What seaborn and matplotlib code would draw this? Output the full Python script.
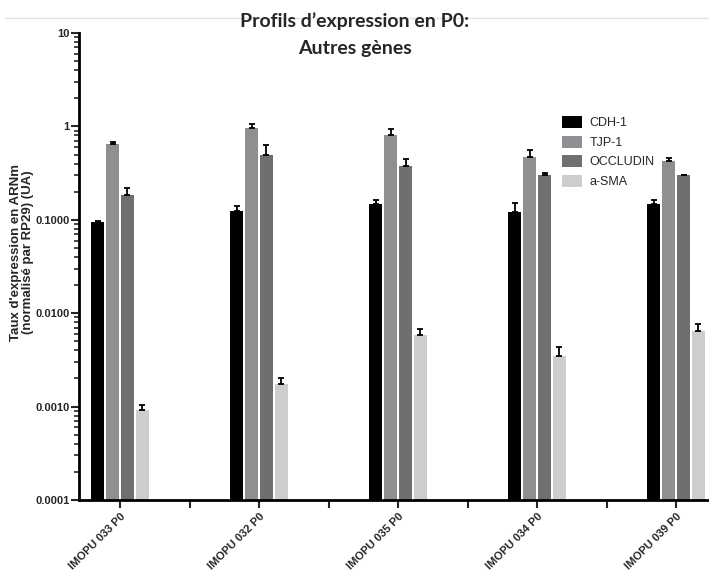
import numpy as np
import pandas as pd
import seaborn as sns
import matplotlib.pyplot as plt
from matplotlib.ticker import FixedLocator, FixedFormatter, LogLocator, NullFormatter
from matplotlib.patches import Patch
from matplotlib.lines import Line2D

# Data (relative mRNA expression, normalised to RP29)
samples = ["IMOPU 033 P0", "IMOPU 032 P0", "IMOPU 035 P0", "IMOPU 034 P0", "IMOPU 039 P0"]
genes = ["CDH-1", "TJP-1", "OCCLUDIN", "a-SMA"]

cdh1 = [0.095, 0.125, 0.148, 0.122, 0.148]
tjp1 = [0.65, 0.96, 0.81, 0.47, 0.43]
occludin = [0.185, 0.50, 0.38, 0.30, 0.30]
asma = [0.00093, 0.00176, 0.0059, 0.0035, 0.0065]

# upper error (SEM)
cdh1_err = [0.002, 0.015, 0.015, 0.030, 0.015]
tjp1_err = [0.03, 0.10, 0.13, 0.09, 0.03]
occludin_err = [0.035, 0.14, 0.07, 0.016, 0.005]
asma_err = [0.00012, 0.00024, 0.0009, 0.0008, 0.0012]

colors = ["#000000", "#8e8e93", "#6f6f6f", "#cdcdcd"]

values = [cdh1, tjp1, occludin, asma]
errors = [cdh1_err, tjp1_err, occludin_err, asma_err]

df = pd.DataFrame({
    "sample": np.tile(samples, len(genes)),
    "gene": np.repeat(genes, len(samples)),
    "value": np.concatenate(values),
})

sns.set_style("white")
plt.rcParams["font.family"] = ["Liberation Sans", "DejaVu Sans"]

fig = plt.figure(figsize=(7.09, 5.74), dpi=100)
ax = fig.add_axes([79 / 709, 1 - 500 / 574, 1 - 79 / 709, (500 - 33) / 574])

sns.barplot(data=df, x="sample", y="value", hue="gene", palette=colors,
            width=0.43, gap=0.12, errorbar=None, ax=ax, legend=False,
            linewidth=0)
ax.set_yscale("log")

# upper-only error bars
for cont, err in zip(ax.containers, errors):
    for bar, e in zip(cont, err):
        xc = bar.get_x() + bar.get_width() / 2
        h = bar.get_height()
        ax.errorbar(xc, h, yerr=[[0], [e]], fmt="none", ecolor="black",
                    elinewidth=1.3, capsize=2.5, capthick=1.3)

ax.set_ylim(1e-4, 10)
ax.set_xlim(-0.295, 4.237)

ax.yaxis.set_major_locator(FixedLocator([1e-4, 1e-3, 1e-2, 1e-1, 1, 10]))
ax.yaxis.set_major_formatter(FixedFormatter(["0.0001", "0.0010", "0.0100", "0.1000", "1", "10"]))
ax.yaxis.set_minor_locator(LogLocator(base=10, subs=np.arange(2, 10)))
ax.yaxis.set_minor_formatter(NullFormatter())

ax.set_xticks(range(len(samples)))
ax.set_xticklabels(samples, rotation=45, ha="right", rotation_mode="anchor",
                   fontsize=8, fontweight="bold")
ax.set_xticks([0.5, 1.5, 2.5, 3.5], minor=True)

for lab in ax.get_yticklabels():
    lab.set_fontsize(8)
    lab.set_fontweight("bold")

ax.tick_params(axis="y", which="major", left=True, length=6, width=1.5, pad=1)
ax.tick_params(axis="y", which="minor", left=True, length=3.5, width=1.2)
ax.tick_params(axis="x", which="both", bottom=True, length=6, width=1.5, pad=2)

for side in ["top", "right"]:
    ax.spines[side].set_visible(False)
for side in ["left", "bottom"]:
    ax.spines[side].set_linewidth(2)
    ax.spines[side].set_color("black")

ax.set_xlabel("")
ax.set_ylabel("Taux d'expression en ARNm\n(normalisé par RP29) (UA)",
              fontsize=9.5, fontweight="bold", linespacing=1.0, va="center")
ax.yaxis.set_label_coords(-(79 - 22) / 630, 0.53)

handles = [Patch(facecolor=c, edgecolor="none") for c in colors]
fig.legend(handles, genes, loc="upper left", bbox_to_anchor=(551 / 709, 1 - 105 / 574),
           frameon=False, fontsize=9, handlelength=1.6, handleheight=1.1,
           labelspacing=0.5, handletextpad=0.6)

# faint slide line behind the title
fig.add_artist(Line2D([5 / 709, 1], [1 - 18 / 574, 1 - 18 / 574],
                      color="#e3e3e3", linewidth=1, zorder=0))

fig.text(0.5, 1 - 12 / 574, "Profils d\u2019expression en P0:\nAutres gènes",
         ha="center", va="top", fontsize=14, fontweight="bold",
         family=["Lato", "DejaVu Sans"], linespacing=1.75)

fig.savefig("out.png", dpi=100)
